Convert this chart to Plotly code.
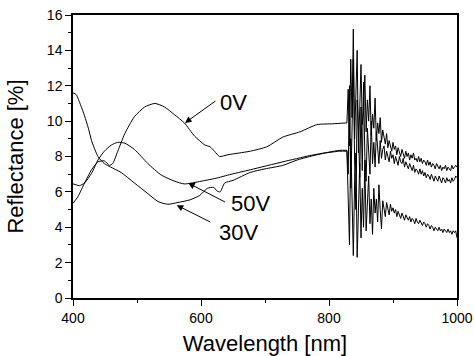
import plotly.graph_objects as go

# ---------------- data ----------------
# smooth part (400-828 nm)
wl_0v_s = [400, 408, 418, 429, 439, 449, 457, 462, 470, 481, 496, 512, 528, 543, 559, 574, 590, 606, 614,
           621, 629, 642, 660, 677, 703, 728, 755, 781, 806, 828]
r_0v_s = [5.35, 5.75, 6.5, 7.25, 7.7, 7.75, 7.5, 7.6, 8.3, 9.3, 10.25, 10.8, 11.0, 10.8, 10.35, 9.9, 9.15, 8.65, 8.55,
          8.3, 8.0, 8.1, 8.2, 8.3, 8.55, 9.1, 9.4, 9.8, 9.85, 9.9]

wl_30v_s = [400, 405, 412, 418, 424, 429, 439, 449, 459, 475, 496, 517, 533, 548, 564, 583, 598, 610, 620,
            625, 630, 637, 650, 677, 700, 728, 750, 770, 795, 817, 828]
r_30v_s = [11.6, 11.5, 10.9, 10.3, 9.6, 8.9, 8.0, 7.6, 7.4, 7.1, 6.5, 5.9, 5.45, 5.3, 5.4, 5.55, 5.8, 6.2, 6.25,
           6.05, 6.0, 6.5, 6.65, 7.1, 7.3, 7.5, 7.8, 8.0, 8.2, 8.3, 8.3]

wl_50v_s = [400, 405, 410, 418, 429, 439, 449, 460, 470, 481, 496, 517, 538, 559, 574, 600, 627, 642, 677,
            728, 770, 800, 817, 828]
r_50v_s = [6.45, 6.4, 6.35, 6.5, 7.05, 7.8, 8.3, 8.65, 8.8, 8.75, 8.4, 7.6, 6.95, 6.6, 6.45, 6.6, 6.8, 6.95, 7.25,
           7.7, 8.05, 8.25, 8.35, 8.35]

# noisy part (828-1000 nm)
wl_noise = [828, 830, 832, 834, 836, 838, 840, 842, 844, 846, 848, 850, 852, 854, 856, 858, 860, 862, 864, 866,
            868, 870,
            872, 874, 876, 878, 880, 882, 884, 886, 888, 890, 892, 894, 896, 898, 900,
            902, 904, 906, 908, 910, 912, 914, 916, 918, 920, 922, 924, 926, 928, 930, 932, 934, 936, 938, 940,
            942, 944, 946, 948, 950,
            952, 954, 956, 958, 960, 962, 964, 966, 968, 970, 972, 974, 976, 978, 980, 982, 984, 986, 988, 990,
            992, 994, 996, 998, 1000]
r_0v_n = [9.9, 11.8, 8.6, 13.5, 10.2, 15.2, 9.0, 12.4, 14.0, 8.2, 11.5, 13.2, 9.8, 10.6, 12.6, 9.4, 11.2, 10.0,
          12.0, 9.2, 10.4, 9.6,
          11.3, 8.9, 9.9, 9.3, 10.2, 8.8, 9.5, 9.0, 8.7, 9.3, 8.5, 8.9, 8.6, 8.3, 8.8,
          8.4, 8.6, 8.1, 8.5, 8.3, 8.0, 8.4, 8.2, 7.9, 8.3, 8.0, 8.2, 7.8, 8.1, 7.9, 8.2, 7.8, 7.9, 7.7, 8.0,
          7.7, 7.9, 7.6, 7.8, 7.7,
          7.5, 7.8, 7.5, 7.7, 7.4, 7.6, 7.5, 7.3, 7.6, 7.4, 7.3, 7.5, 7.2, 7.4, 7.3, 7.5, 7.2, 7.4, 7.3, 7.2,
          7.5, 7.3, 7.4, 7.5, 7.4]
r_50v_n = [8.35, 7.0, 12.0, 6.2, 9.5, 13.5, 7.8, 5.0, 11.2, 9.6, 6.8, 10.8, 7.2, 12.2, 8.0, 6.6, 9.6, 8.4,
           7.0, 10.0, 7.6, 8.8,
           7.4, 9.4, 8.2, 7.6, 8.9, 7.9, 8.4, 8.6, 7.8, 8.3, 8.0, 7.7, 8.3, 7.9, 8.1,
           7.6, 8.0, 7.8, 7.5, 8.0, 7.7, 7.6, 7.9, 7.4, 7.7, 7.5, 7.3, 7.6, 7.4, 7.2, 7.5, 7.1, 7.3, 7.2, 7.0,
           7.3, 7.0, 7.2, 6.9, 7.1,
           6.8, 7.0, 6.9, 6.7, 7.0, 6.8, 6.6, 6.9, 6.7, 6.6, 6.9, 6.7, 6.5, 6.8, 6.7, 6.5, 6.8, 6.6, 6.7, 6.5,
           6.8, 6.6, 6.7, 6.9, 6.8]
r_30v_n = [8.3, 5.0, 3.0, 9.0, 4.5, 2.4, 6.5, 8.2, 2.3, 5.2, 7.6, 3.4, 6.2, 4.0, 7.8, 3.8, 5.8, 6.9,
           4.2, 5.6, 3.6, 6.2,
           4.8, 5.6, 4.3, 6.4, 5.0, 3.9, 5.5, 5.1, 4.6, 5.4, 5.0, 4.7, 5.3, 4.9, 5.1,
           4.8, 5.0, 4.6, 4.9, 4.7, 4.5, 4.8, 4.6, 4.4, 4.7, 4.5, 4.4, 4.6, 4.3, 4.5, 4.4, 4.2, 4.5, 4.3, 4.2,
           4.4, 4.2, 4.1, 4.3, 4.2,
           4.0, 4.2, 4.1, 3.9, 4.1, 4.0, 3.8, 4.0, 3.9, 3.8, 4.0, 3.8, 3.9, 3.7, 3.9, 3.8, 3.7, 3.9, 3.7, 3.8,
           3.6, 3.8, 3.7, 3.8, 3.4]

# labels: (text, text_x, text_y, arrow_tail_x, arrow_tail_y, arrow_head_x, arrow_head_y)
labels = [
    ("0V", 627, 11.05, 625, 11.2, 575, 9.9),
    ("50V", 643, 5.33, 640, 5.38, 580, 6.5),
    ("30V", 625, 3.69, 617, 4.25, 562, 5.25),
]

# ---------------- figure ----------------
fig = go.Figure()
line = dict(color="black", width=1)
for wx, wy in [(wl_0v_s, r_0v_s), (wl_30v_s, r_30v_s), (wl_50v_s, r_50v_s)]:
    fig.add_trace(go.Scatter(x=wx, y=wy, mode="lines",
                             line=dict(color="black", width=1, shape="spline", smoothing=0.6),
                             showlegend=False, hoverinfo="skip"))
for wy in [r_0v_n, r_50v_n, r_30v_n]:
    fig.add_trace(go.Scatter(x=wl_noise, y=wy, mode="lines", line=line, showlegend=False, hoverinfo="skip"))

font_family = "Arial, Liberation Sans, sans-serif"
for text, tx, ty, ax, ay, hx, hy in labels:
    fig.add_annotation(x=tx, y=ty, text=text, showarrow=False, xanchor="left", yanchor="middle",
                       font=dict(size=22, color="black", family=font_family))
    fig.add_annotation(x=hx, y=hy, ax=ax, ay=ay, axref="x", ayref="y", text="", showarrow=True,
                       arrowhead=2, arrowsize=1.3, arrowwidth=1, arrowcolor="black")

axis_common = dict(showline=True, linecolor="black", linewidth=1.5, mirror=True, ticks="outside",
                   ticklen=6, tickwidth=1.2, tickcolor="black", showgrid=False, zeroline=False,
                   automargin=False,
                   tickfont=dict(size=14, color="black", family=font_family),
                   minor=dict(ticks="outside", ticklen=3, tickwidth=1, tickcolor="black", showgrid=False))

fig.update_xaxes(range=[400, 1000], tickvals=[400, 600, 800, 1000], minor_dtick=100, **axis_common,
                 title=dict(text="Wavelength [nm]", font=dict(size=22, color="black", family=font_family),
                            standoff=15))
fig.update_yaxes(range=[0, 16], dtick=2, minor_dtick=1, **axis_common,
                 title=dict(text="Reflectance [%]", font=dict(size=22, color="black", family=font_family),
                            standoff=17))

fig.update_layout(width=474, height=356, autosize=False,
                  margin=dict(l=73, r=17, t=15, b=58),
                  plot_bgcolor="white", paper_bgcolor="white")

fig.write_html("out.html")
